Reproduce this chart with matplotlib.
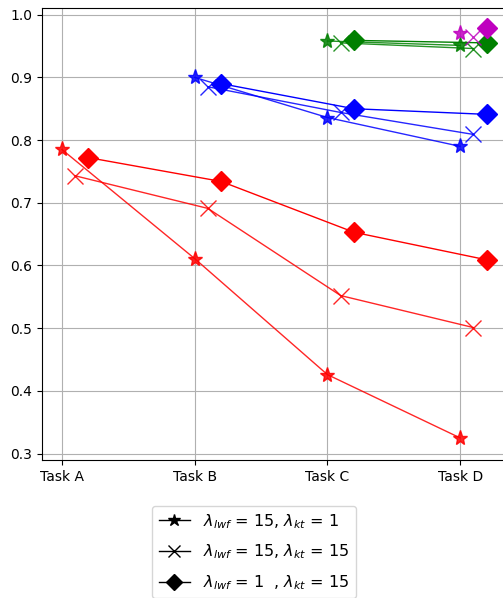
import matplotlib
matplotlib.use("Agg")
import matplotlib.pyplot as plt
import numpy as np

tasks = ['Task A', 'Task B', 'Task C', 'Task D']

# each group starts at a different task; values for star / cross / diamond settings
red_star = [0.785, 0.611, 0.426, 0.325]
red_cross = [0.743, 0.691, 0.552, 0.501]
red_diam = [0.772, 0.734, 0.653, 0.609]

blue_star = [0.900, 0.836, 0.790]
blue_cross = [0.885, 0.844, 0.809]
blue_diam = [0.890, 0.850, 0.841]

green_star = [0.958, 0.951]
green_cross = [0.955, 0.946]
green_diam = [0.959, 0.955]

mag_star = [0.970]
mag_cross = [0.965]
mag_diam = [0.979]

groups = [
    ('red', 0, red_star, red_cross, red_diam),
    ('blue', 1, blue_star, blue_cross, blue_diam),
    ('green', 2, green_star, green_cross, green_diam),
    ('m', 3, mag_star, mag_cross, mag_diam),
]

fig = plt.figure(figsize=(5.03, 5.98), dpi=100)
ax = fig.add_axes([0.0835, 0.231, 0.921, 0.756])

for color, start, s, c, d in groups:
    x = np.arange(start, 4)
    ax.plot(x, s, color=color, marker='*', ms=11, lw=1, alpha=0.85)
    ax.plot(x + 0.1, c, color=color, marker='x', ms=11, lw=1, alpha=0.85)
    ax.plot(x + 0.2, d, color=color, marker='D', ms=10, lw=1)

ax.set_xticks(range(4))
ax.set_xticklabels(tasks)
ax.set_xlim(-0.15, 3.34)
ax.set_ylim(0.29, 1.011)
ax.grid(True, color='#b0b0b0', lw=0.8)

h1, = ax.plot([], [], color='k', marker='*', ms=9, lw=1)
h2, = ax.plot([], [], color='k', marker='x', ms=9, lw=1)
h3, = ax.plot([], [], color='k', marker='D', ms=8, lw=1)
fig.legend([h1, h2, h3],
           [r'$\lambda_{lwf}$ = 15, $\lambda_{kt}$ = 1',
            r'$\lambda_{lwf}$ = 15, $\lambda_{kt}$ = 15',
            r'$\lambda_{lwf}$ = 1  , $\lambda_{kt}$ = 15'],
           loc='upper center', bbox_to_anchor=(0.505, 0.168), fontsize=11.5,
           labelspacing=0.75)

fig.savefig('out.png', dpi=100)
